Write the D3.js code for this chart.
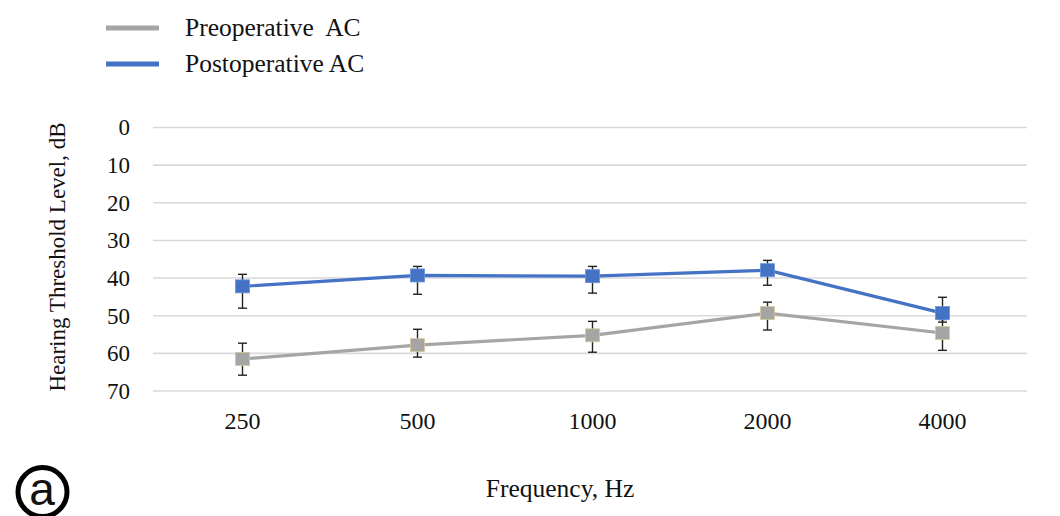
<!DOCTYPE html>
<html>
<head>
<meta charset="utf-8">
<script src="https://cdn.jsdelivr.net/npm/d3@7"></script>
<style>
  body { margin: 0; background: #fff; }
  text { font-family: "Liberation Serif", "Times New Roman", serif; fill: #111; }
</style>
</head>
<body>
<div class="chart"></div>
<script>
// frequencies on the x axis
let freqs = ["250", "500", "1000", "2000", "4000"];
let yTicks = [0, 10, 20, 30, 40, 50, 60, 70];

// mean thresholds and error bar ends, dB
let preMean = [61.5, 57.8, 55.2, 49.3, 54.6];
let preLow = [57.3, 53.6, 51.5, 46.4, 51.0];
let preHigh = [65.8, 61.0, 59.7, 53.8, 59.2];

let postMean = [42.2, 39.3, 39.5, 37.9, 49.3];
let postLow = [39.0, 36.9, 36.9, 35.3, 45.1];
let postHigh = [48.0, 44.3, 44.0, 41.9, 51.7];

let seriesNames = ["Preoperative  AC", "Postoperative AC"];
let seriesColors = ["#a5a5a5", "#4472c4"];

let svg = d3.select(".chart")
  .append("svg")
  .attr("width", 1060)
  .attr("height", 516);

let x = d3.scaleBand().domain(freqs).range([155, 1030]);
let y = d3.scaleLinear().domain([0, 70]).range([127.5, 391]);

// gridlines
svg.append("g")
  .selectAll("line")
  .data(yTicks)
  .join("line")
  .attr("x1", 153)
  .attr("x2", 1027)
  .attr("y1", d => y(d))
  .attr("y2", d => y(d))
  .attr("stroke", "#d9d9d9")
  .attr("stroke-width", 1.6);

// y axis labels
let yAxis = svg.append("g")
  .attr("transform", "translate(153,0)")
  .call(d3.axisLeft(y).tickValues(yTicks).tickSize(0).tickPadding(23));
yAxis.select(".domain").remove();
yAxis.selectAll("text")
  .style("font-family", "Liberation Serif")
  .style("font-size", "23px")
  .attr("fill", "#111");

// x axis labels
let xAxis = svg.append("g")
  .attr("transform", "translate(0,412)")
  .call(d3.axisBottom(x).tickSize(0).tickPadding(0));
xAxis.select(".domain").remove();
xAxis.selectAll("text")
  .style("font-family", "Liberation Serif")
  .style("font-size", "24px")
  .attr("fill", "#111")
  .attr("dy", "0.71em");

svg.append("text")
  .attr("transform", "translate(65,257) rotate(-90)")
  .attr("text-anchor", "middle")
  .style("font-size", "23px")
  .text("Hearing Threshold Level, dB");

svg.append("text")
  .attr("x", 560)
  .attr("y", 497)
  .attr("text-anchor", "middle")
  .style("font-size", "25.5px")
  .text("Frequency, Hz");

let series = [
  { mean: preMean, low: preLow, high: preHigh, color: seriesColors[0], edge: "#d8c89a" },
  { mean: postMean, low: postLow, high: postHigh, color: seriesColors[1], edge: "#6a93d8" }
];

let line = d3.line()
  .x((d, i) => x(freqs[i]) + x.bandwidth() / 2)
  .y(d => y(d));

series.forEach(s => {
  svg.append("path")
    .datum(s.mean)
    .attr("fill", "none")
    .attr("stroke", s.color)
    .attr("stroke-width", 3.2)
    .attr("d", line);
});

series.forEach(s => {
  let g = svg.append("g");
  freqs.forEach((f, i) => {
    let cx = x(f) + x.bandwidth() / 2;
    g.append("line")
      .attr("x1", cx).attr("x2", cx)
      .attr("y1", y(s.low[i])).attr("y2", y(s.high[i]))
      .attr("stroke", "#222").attr("stroke-width", 1.4);
    [s.low[i], s.high[i]].forEach(v => {
      g.append("line")
        .attr("x1", cx - 4.5).attr("x2", cx + 4.5)
        .attr("y1", y(v)).attr("y2", y(v))
        .attr("stroke", "#222").attr("stroke-width", 1.4);
    });
  });
  g.selectAll("rect")
    .data(s.mean)
    .join("rect")
    .attr("x", (d, i) => x(freqs[i]) + x.bandwidth() / 2 - 7)
    .attr("y", d => y(d) - 6.5)
    .attr("width", 14)
    .attr("height", 13)
    .attr("fill", s.color)
    .attr("stroke", s.edge)
    .attr("stroke-width", 0.8);
});

// legend
let legend = svg.append("g");
seriesNames.forEach((name, i) => {
  let ly = 28 + i * 36;
  legend.append("line")
    .attr("x1", 106).attr("x2", 159)
    .attr("y1", ly).attr("y2", ly)
    .attr("stroke", seriesColors[i])
    .attr("stroke-width", 5);
  legend.append("text")
    .attr("x", 185)
    .attr("y", ly + 8)
    .style("font-size", "25.5px")
    .attr("xml:space", "preserve")
    .style("white-space", "pre")
    .text(name);
});

// logo mark bottom left
svg.append("circle")
  .attr("cx", 42.5).attr("cy", 492)
  .attr("r", 24.5)
  .attr("fill", "none")
  .attr("stroke", "#000")
  .attr("stroke-width", 5);
svg.append("text")
  .attr("x", 42).attr("y", 505)
  .attr("text-anchor", "middle")
  .style("font-family", "Liberation Sans")
  .style("font-size", "46px")
  .attr("fill", "#000")
  .text("a");
</script>
</body>
</html>
